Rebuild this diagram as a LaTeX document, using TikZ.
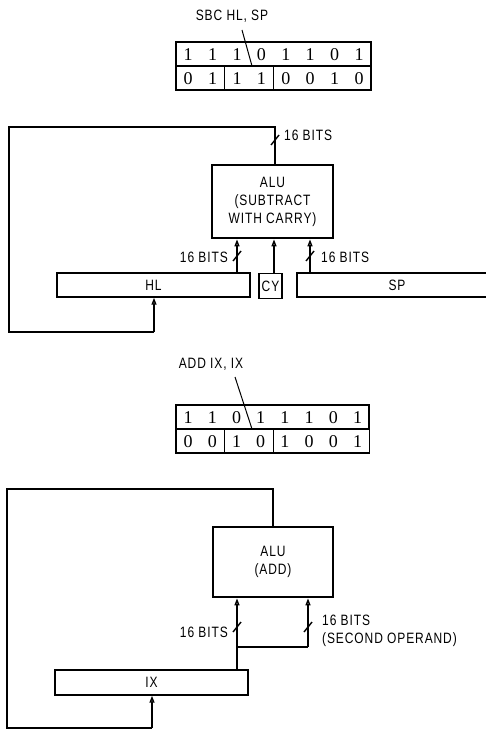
\documentclass[tikz,border=0pt]{standalone}
\usepackage{fontspec}
\newfontfamily\lblfont[FakeStretch=0.8,LetterSpace=6]{Liberation Sans}
\newfontfamily\bitfont{Liberation Serif}
\usetikzlibrary{arrows.meta,calc}
\begin{document}
\begin{tikzpicture}[x=1pt,y=-1pt,
  wire/.style={line width=1.4pt},
  thinwire/.style={line width=1pt},
  arr/.style={line width=1.4pt,-{Triangle[length=7pt,width=5pt,fill=gray!60]}},
  reg/.style={draw,line width=1.4pt,rectangle,inner sep=0pt,font=\lblfont\fontsize{15}{16}\selectfont},
  alu/.style={draw,line width=2.8pt,rectangle,inner sep=0pt,align=center,font=\lblfont\fontsize{15}{18}\selectfont},
  lbl/.style={inner sep=0pt,font=\lblfont\fontsize{15}{18}\selectfont},
  bit/.style={inner sep=0pt,font=\bitfont\fontsize{18}{18}\selectfont},
  cell/.style={draw,line width=1.3pt,rectangle,inner sep=0pt,minimum height=24pt}]
\useasboundingbox (0,0) rectangle (485,730);
\def\bus(#1){\draw[wire] (#1) ++(-4,5) -- ++(8,-10);}
% ===== Top: SBC HL, SP =====
\node[lbl] (sbc) at (232,16) {SBC HL, SP};
\node[cell,minimum width=195pt] (ta1) at (273.5,54) {};
\node[cell,minimum width=48.8pt] (ta2) at (200.4,78) {};
\node[cell,minimum width=48.8pt] (ta3) at (249.2,78) {};
\node[cell,minimum width=97.6pt] (ta4) at (322.2,78) {};
\foreach \b [count=\i from 0] in {1,1,1,0,1,1,0,1}
  \node[bit] (tab\i) at ({176+24.4*(\i+0.5)},55) {\b};
\foreach \b [count=\i from 0] in {0,1,1,1,0,0,1,0}
  \node[bit] (tbb\i) at ({176+24.4*(\i+0.5)},79) {\b};
\coordinate (sbct) at (242,30);
\coordinate (sbcp) at (252,66);
\draw[thinwire] (sbct) -- (sbcp);

\node[alu,minimum width=121pt,minimum height=73pt] (alu1) at (272.5,201.5)
  {ALU\\(SUBTRACT\\WITH CARRY)};
\node[reg,minimum width=193pt,minimum height=24pt] (hl) at (153.5,285) {HL};
\node[reg,minimum width=23pt,minimum height=25pt] (cy) at (270.5,286) {CY};
\node[reg,minimum width=200pt,minimum height=24pt] (sp) at (397,285) {SP};
\coordinate (xa) at (237,0);
\coordinate (xb) at (274,0);
\coordinate (xc) at (310,0);
\coordinate (xf) at (154,0);
\draw[arr] (hl.north -| xa) -- (alu1.south -| xa);
\draw[arr] (cy.north -| xb) -- (alu1.south -| xb);
\draw[arr] (sp.north -| xc) -- (alu1.south -| xc);
\coordinate (sa) at (237,256);
\coordinate (sc) at (310,256);
\bus(sa)
\bus(sc)
\node[lbl,anchor=east] (l16a) at (228,257) {16 BITS};
\node[lbl,anchor=west] (l16b) at (321,257) {16 BITS};
% feedback
\coordinate (fb1) at (275,127);
\coordinate (fb2) at (9,127);
\coordinate (fb3) at (9,332);
\coordinate (fb4) at (154,332);
\draw[wire] (alu1.north -| fb1) -- (fb1) -- (fb2) -- (fb3) -- (fb4);
\draw[arr] (fb4) -- (hl.south -| fb4);
\coordinate (sf) at (275,140);
\bus(sf)
\node[lbl,anchor=west] (l16c) at (284,135) {16 BITS};

% ===== Bottom: ADD IX, IX =====
\node[lbl] (addl) at (211,364) {ADD IX, IX};
\node[cell,minimum width=193pt] (tb1) at (272.5,417) {};
\node[cell,minimum width=48.8pt] (tb2) at (200.4,441) {};
\node[cell,minimum width=48.8pt] (tb3) at (249.2,441) {};
\node[cell,minimum width=96pt] (tb4) at (321.4,441) {};
\foreach \b [count=\i from 0] in {1,1,0,1,1,1,0,1}
  \node[bit] (bab\i) at ({176+24.2*(\i+0.5)},418) {\b};
\foreach \b [count=\i from 0] in {0,0,1,0,1,0,0,1}
  \node[bit] (bbb\i) at ({176+24.2*(\i+0.5)},442) {\b};
\coordinate (addt) at (235,377);
\coordinate (addp) at (252,429);
\draw[thinwire] (addt) -- (addp);

\node[alu,minimum width=120pt,minimum height=70pt] (alu2) at (273,562)
  {ALU\\(ADD)};
\node[reg,minimum width=193pt,minimum height=25pt] (ix) at (151.5,682.5) {IX};
\coordinate (ya) at (237,0);
\coordinate (yc) at (308,0);
\coordinate (yj) at (308,647);
\coordinate (yjl) at (237,647);
\draw[arr] (ix.north -| ya) -- (alu2.south -| ya);
\draw[wire] (yjl) -- (yj);
\draw[arr] (yj) -- (alu2.south -| yc);
\coordinate (sba) at (237,627);
\coordinate (sbc2) at (308,627);
\bus(sba)
\bus(sbc2)
\node[lbl,anchor=east] (l16d) at (228,632) {16 BITS};
\node[lbl,anchor=north west,align=left] (l16e) at (322,615) {16 BITS\\(SECOND OPERAND)};
% feedback
\coordinate (gb1) at (273,489);
\coordinate (gb2) at (7,489);
\coordinate (gb3) at (7,728);
\coordinate (gb4) at (152,728);
\draw[wire] (alu2.north -| gb1) -- (gb1) -- (gb2) -- (gb3) -- (gb4);
\draw[arr] (gb4) -- (ix.south -| gb4);
\end{tikzpicture}
\end{document}
